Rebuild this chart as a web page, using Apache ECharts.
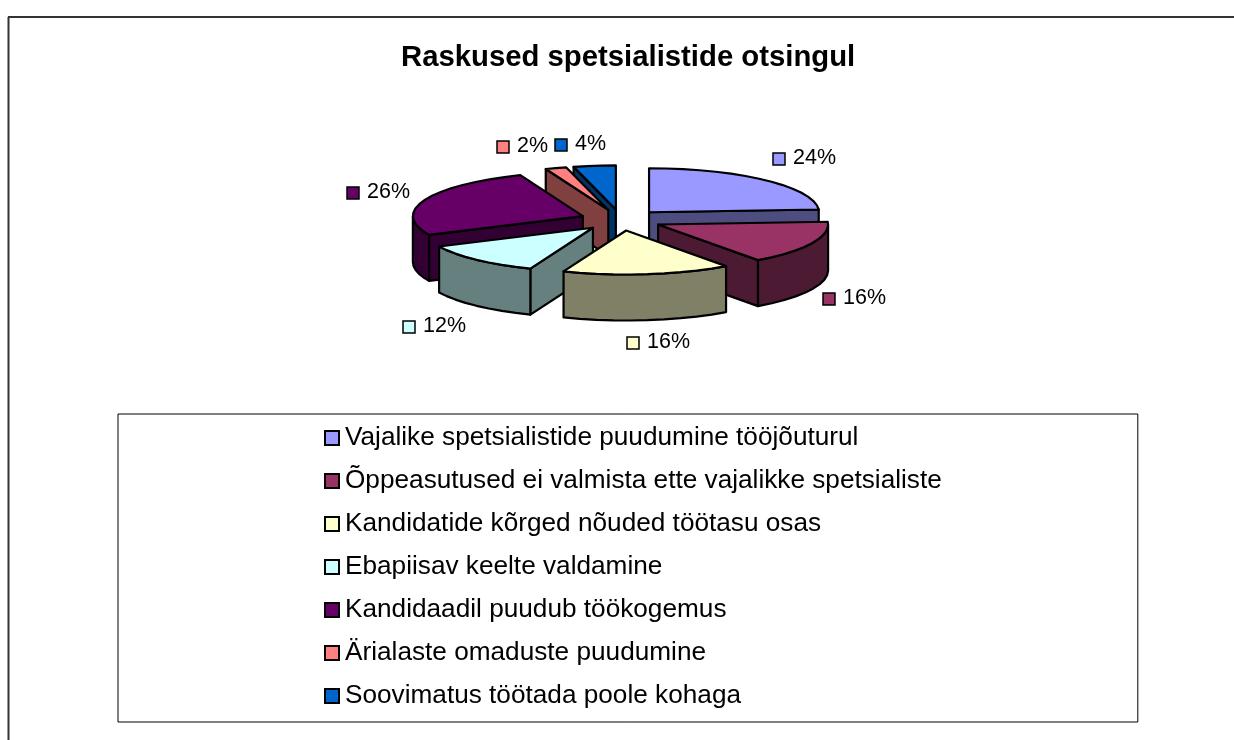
<!DOCTYPE html>
<html>
<head>
<meta charset="utf-8">
<style>html,body{margin:0;padding:0;background:#fff}#c{width:1234px;height:740px}</style>
<script src="https://cdn.jsdelivr.net/npm/echarts@6/dist/echarts.min.js"></script>
</head>
<body>
<div id="c"></div>
<script>
var titleText = 'Raskused spetsialistide otsingul';
var categories = [
  'Vajalike spetsialistide puudumine tööjõuturul',
  'Õppeasutused ei valmista ette vajalikke spetsialiste',
  'Kandidatide kõrged nõuded töötasu osas',
  'Ebapiisav keelte valdamine',
  'Kandidaadil puudub töökogemus',
  'Ärialaste omaduste puudumine',
  'Soovimatus töötada poole kohaga'
];
var values = [24, 16, 16, 12, 26, 2, 4];
var topColors = ['#9999FF', '#993366', '#FFFFCC', '#CCFFFF', '#660066', '#FF8080', '#0066CC'];
var sideColors = ['#4D4D80', '#4D1A33', '#808066', '#668080', '#330033', '#804040', '#003366'];

// projection of the tilted pie
var CX = 621, CY = 220, RX = 170, RY = 44, DEPTH = 46, EXPLODE = 41;
var TILT = RY / RX;
// data-label key position, one for each slice (layout, not data)
var labelAt = [[779,159],[829,299],[633,343],[409,327],[353,193],[503,147],[561,145]];

var total = values.reduce(function (a, b) { return a + b; }, 0);
var slices = [];
var acc = 0;
values.forEach(function (v, i) {
  var a0 = acc / total * 360;
  acc += v;
  var a1 = acc / total * 360;
  slices.push({ index: i, a0: a0, a1: a1, mid: (a0 + a1) / 2 });
});
function rad(d) { return d * Math.PI / 180; }
function order(s) { return -Math.cos(rad(s.mid)); }
var drawOrder = slices.slice().sort(function (a, b) { return order(a) - order(b); });

function renderSlice(s) {
  return function (params, api) {
    var val = api.value(0);
    var m = rad(s.mid);
    var ox = CX + EXPLODE * Math.sin(m);
    var oy = CY - EXPLODE * TILT * Math.cos(m);
    function pt(d, dz) {
      return [ox + RX * Math.sin(rad(d)), oy - RY * Math.cos(rad(d)) + (dz || 0)];
    }
    function arc(from, to, dz) {
      var n = Math.max(1, Math.ceil((to - from) / 6)), out = [];
      for (var k = 0; k <= n; k++) out.push(pt(from + (to - from) * k / n, dz));
      return out;
    }
    var stroke = { stroke: '#000', lineWidth: 2.2, lineJoin: 'round' };
    function poly(points, fill) {
      return { type: 'polygon', shape: { points: points }, style: Object.assign({ fill: fill }, stroke) };
    }
    var kids = [];
    var side = sideColors[s.index], top = topColors[s.index];
    var apex = [ox, oy], apexLow = [ox, oy + DEPTH];
    function radial(d) { return poly([apex, pt(d), pt(d, DEPTH), apexLow], side); }
    if (Math.sin(rad(s.a0)) < -1e-6) kids.push(radial(s.a0));
    if (Math.sin(rad(s.a1)) > 1e-6) kids.push(radial(s.a1));
    var w0 = Math.max(s.a0, 90), w1 = Math.min(s.a1, 270);
    if (w1 > w0) {
      kids.push(poly(arc(w0, w1, 0).concat(arc(w0, w1, DEPTH).reverse()), side));
    }
    kids.push(poly([apex].concat(arc(s.a0, s.a1, 0)), top));

    var lp = labelAt[s.index];
    kids.push({ type: 'rect', shape: { x: lp[0] - 6, y: lp[1] - 6, width: 12, height: 12 },
      style: { fill: top, stroke: '#000', lineWidth: 1.5 } });
    kids.push({ type: 'text', style: { x: lp[0] + 14, y: lp[1] - 1, text: val + '%', fill: '#000',
      font: '21.5px "Liberation Sans", Arial, sans-serif', verticalAlign: 'middle', align: 'left' } });
    return { type: 'group', children: kids };
  };
}

var chart = echarts.init(document.getElementById('c'));
chart.setOption({
  animation: false,
  backgroundColor: '#fff',
  title: {
    text: titleText, left: 396, top: 38,
    textStyle: { fontFamily: '"Liberation Sans", Arial, sans-serif', fontSize: 29.3, fontWeight: 'bold', color: '#000' }
  },
  legend: {
    orient: 'vertical', left: 118, top: 414,
    padding: [11, 196, 13, 206],
    height: 284,
    borderColor: '#000', borderWidth: 1,
    itemWidth: 14, itemHeight: 14, itemGap: 17,
    icon: 'rect', selectedMode: false,
    data: categories,
    itemStyle: { borderColor: '#000', borderWidth: 2 },
    textStyle: { fontFamily: '"Liberation Sans", Arial, sans-serif', fontSize: 26.2, color: '#000', padding: [0, 0, 3, 1] }
  },
  graphic: [
    { type: 'line', shape: { x1: 8.5, y1: 17, x2: 8.5, y2: 740 }, style: { stroke: '#333', lineWidth: 2 } },
    { type: 'line', shape: { x1: 8, y1: 17, x2: 1234, y2: 17 }, style: { stroke: '#333', lineWidth: 2 } }
  ],
  series: drawOrder.map(function (s) {
    return {
      type: 'custom', name: categories[s.index], coordinateSystem: 'none',
      itemStyle: { color: topColors[s.index] },
      data: [[values[s.index]]],
      renderItem: renderSlice(s),
      silent: true
    };
  })
});
</script>
</body>
</html>
